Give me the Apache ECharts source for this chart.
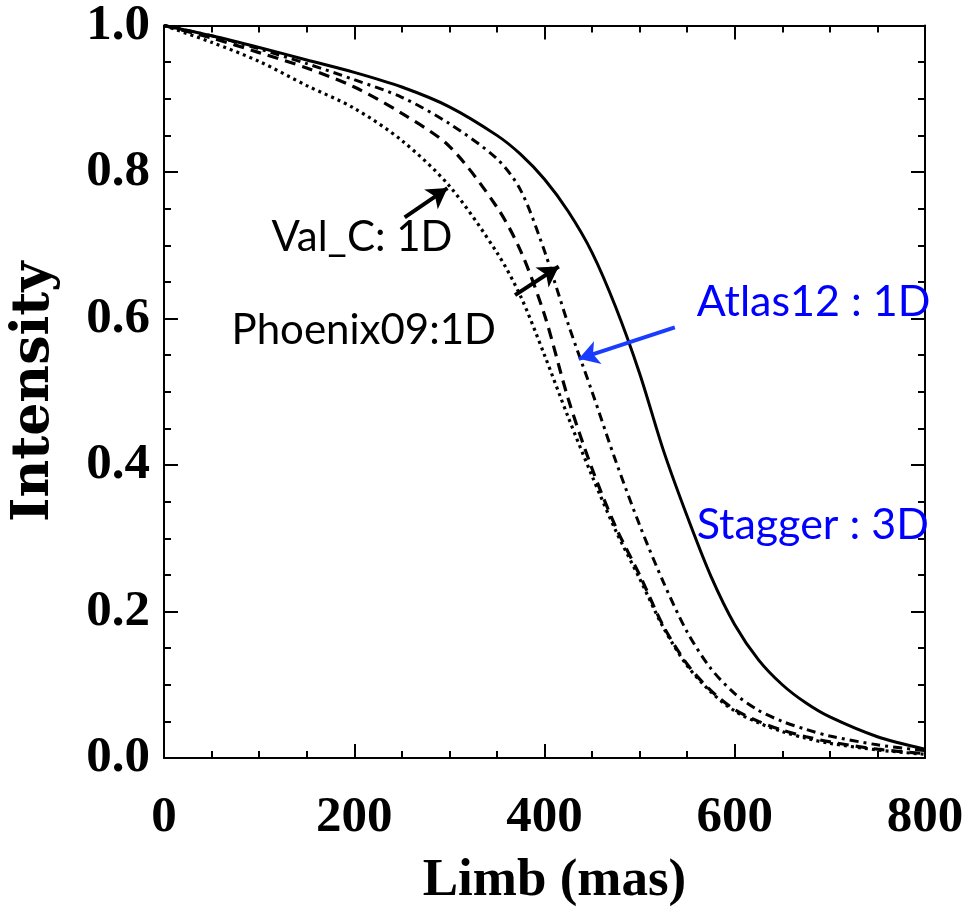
<!DOCTYPE html>
<html>
<head>
<meta charset="utf-8">
<script src="https://cdn.jsdelivr.net/npm/echarts@6/dist/echarts.min.js"></script>
<style>
  html, body { margin: 0; padding: 0; background: #fff; }
  #chart { width: 967px; height: 918px; }
</style>
</head>
<body>
<div id="chart"></div>
<script>
// Limb position (mas) shared by every intensity profile
const limb = [0, 50, 100, 150, 200, 250, 300, 350, 375, 400, 425, 450, 475, 500, 525, 550, 575, 600, 625, 650, 675, 700, 750, 800];

// Normalised intensity profiles
const stagger3D = [1.000, 0.986, 0.970, 0.953, 0.936, 0.916, 0.889, 0.850, 0.824, 0.790, 0.746, 0.690, 0.615, 0.525, 0.420, 0.330, 0.248, 0.182, 0.134, 0.100, 0.075, 0.056, 0.029, 0.012];
const atlas12 = [1.000, 0.986, 0.968, 0.948, 0.926, 0.902, 0.866, 0.818, 0.775, 0.692, 0.592, 0.500, 0.405, 0.318, 0.240, 0.172, 0.122, 0.088, 0.065, 0.050, 0.039, 0.030, 0.018, 0.010];
const phoenix09 = [1.000, 0.983, 0.963, 0.942, 0.916, 0.880, 0.835, 0.752, 0.692, 0.605, 0.490, 0.395, 0.315, 0.250, 0.180, 0.128, 0.092, 0.066, 0.050, 0.038, 0.029, 0.022, 0.012, 0.006];
const valC = [1.000, 0.977, 0.951, 0.918, 0.887, 0.843, 0.781, 0.690, 0.630, 0.550, 0.465, 0.385, 0.310, 0.245, 0.178, 0.126, 0.090, 0.064, 0.048, 0.036, 0.027, 0.020, 0.011, 0.005];

// Axis ticks
const xTicks = [0, 200, 400, 600, 800];
const yTicks = ['0.0', '0.2', '0.4', '0.6', '0.8', '1.0'];
const xTitle = 'Limb (mas)';
const yTitle = 'Intensity';

// Annotations (data coordinates)
const noteTexts = ['Val_C: 1D', 'Phoenix09:1D', 'Atlas12 : 1D', 'Stagger : 3D'];
const noteX = [113, 71, 560, 560];
const noteY = [0.711, 0.584, 0.622, 0.318];
const noteSizes = [42, 42, 43, 43];
const noteColors = ['#000000', '#000000', '#0000ff', '#0000ff'];

// Arrows: [fromX, fromY, toX, toY]
const arrowValC = [253, 0.738, 298, 0.778];
const arrowPhoenix = [369, 0.632, 415, 0.671];
const arrowAtlas = [537, 0.588, 436, 0.545];

const pairs = ys => limb.map((x, i) => [x, ys[i]]);

const tickFont = {
  fontFamily: 'Liberation Serif', fontWeight: 'bold', fontSize: 51, color: '#000'
};
const lineAxis = { show: true, onZero: false, lineStyle: { color: '#000', width: 2 } };
const inTick = { show: true, inside: true, length: 14, lineStyle: { color: '#000', width: 2 } };
const inMinor = { show: true, splitNumber: 4, length: 7, lineStyle: { color: '#000', width: 2 } };

function arrowLine(a, color) {
  return {
    silent: true,
    animation: false,
    symbol: ['none', 'arrow'],
    symbolSize: [18, 20],
    lineStyle: { color: color, width: 4, type: 'solid' },
    label: { show: false },
    emphasis: { disabled: true },
    data: [[{ coord: [a[0], a[1]] }, { coord: [a[2], a[3]] }]]
  };
}

function profile(name, ys, type, width, extra) {
  return Object.assign({
    name: name, type: 'line', data: pairs(ys),
    smooth: 0.3, showSymbol: false, symbol: 'none',
    lineStyle: { color: '#000', width: width, type: type }
  }, extra || {});
}

const chart = echarts.init(document.getElementById('chart'), null, { renderer: 'canvas' });

const option = {
  animation: false,
  backgroundColor: '#fff',
  grid: { left: 164, right: 42, top: 13, bottom: 160, containLabel: false },
  xAxis: [
    {
      type: 'value', min: 0, max: 800, interval: 200, position: 'bottom',
      axisLine: lineAxis, axisTick: inTick, minorTick: inMinor,
      axisLabel: Object.assign({ margin: 34, formatter: v => xTicks.includes(v) ? String(v) : '' }, tickFont),
      splitLine: { show: false }, minorSplitLine: { show: false }
    },
    {
      type: 'value', min: 0, max: 800, interval: 200, position: 'top',
      axisLine: lineAxis, axisTick: inTick, minorTick: inMinor,
      axisLabel: { show: false }, splitLine: { show: false }
    }
  ],
  yAxis: [
    {
      type: 'value', min: 0, max: 1, interval: 0.2, position: 'left',
      axisLine: lineAxis, axisTick: inTick, minorTick: inMinor,
      axisLabel: Object.assign({ margin: 14, formatter: v => yTicks[Math.round(v * 5)] }, tickFont),
      splitLine: { show: false }, minorSplitLine: { show: false }
    },
    {
      type: 'value', min: 0, max: 1, interval: 0.2, position: 'right',
      axisLine: lineAxis, axisTick: inTick, minorTick: inMinor,
      axisLabel: { show: false }, splitLine: { show: false }
    }
  ],
  series: [
    profile('Stagger : 3D', stagger3D, 'solid', 3, { markLine: arrowLine(arrowAtlas, '#1a3cff') }),
    profile('Atlas12 : 1D', atlas12, [9, 5, 3, 5], 3),
    profile('Phoenix09:1D', phoenix09, [11, 7], 3.2, { markLine: arrowLine(arrowPhoenix, '#000') }),
    profile('Val_C: 1D', valC, [3, 4], 3.2, { markLine: arrowLine(arrowValC, '#000') })
  ]
};

chart.setOption(option);

// Axis titles centred on the plot area, annotation texts at their data positions
const rect = chart.getModel().getComponent('grid', 0).coordinateSystem.getRect();
const graphics = [
  {
    type: 'text', x: rect.x + rect.width / 2 + 10, y: rect.y + rect.height + 97, silent: true,
    style: { text: xTitle, fill: '#000', fontFamily: 'Liberation Serif', fontWeight: 'bold',
             fontSize: 53, align: 'center', verticalAlign: 'top' }
  },
  {
    type: 'text', x: 34, y: rect.y + rect.height / 2, rotation: Math.PI / 2, silent: true,
    style: { text: yTitle, fill: '#000', fontFamily: 'DejaVu Serif', fontWeight: 'bold',
             fontSize: 52, align: 'center', verticalAlign: 'middle' }
  }
].concat(noteTexts.map((t, i) => {
  const p = chart.convertToPixel({ xAxisIndex: 0, yAxisIndex: 0 }, [noteX[i], noteY[i]]);
  return {
    type: 'text', x: p[0], y: p[1], silent: true, z: 10,
    style: {
      text: t, fill: noteColors[i], fontFamily: 'Lato', fontSize: noteSizes[i],
      align: 'left', verticalAlign: 'middle'
    }
  };
}));
chart.setOption({ graphic: graphics });
</script>
</body>
</html>
